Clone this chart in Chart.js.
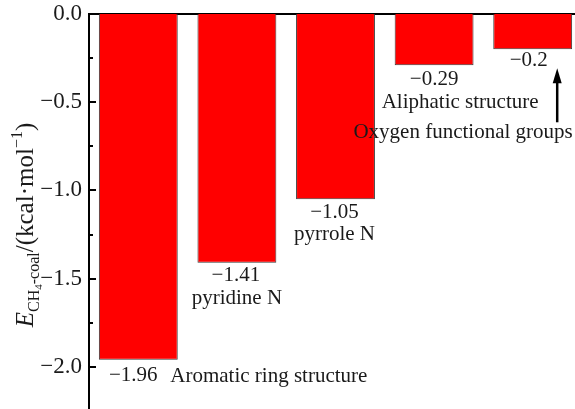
<!DOCTYPE html>
<html lang="en">
<head>
    <meta charset="UTF-8">
    <title>CH4 adsorption energy by structure</title>
    <style>
        html, body { margin: 0; padding: 0; background: #fff; overflow: hidden; }
        #wrap { width: 582px; height: 411px; }
    </style>
    <script src="https://cdn.jsdelivr.net/npm/chart.js"></script>
</head>
<body>
    <div id="wrap">
        <canvas id="energyChart" width="582" height="411"></canvas>
    </div>

    <script>
        // data
        const structures = ['Aromatic ring structure', 'pyridine N', 'pyrrole N', 'Aliphatic structure', 'Oxygen functional groups'];
        const energies = [-1.96, -1.41, -1.05, -0.29, -0.2];
        const valueLabels = ['\u22121.96', '\u22121.41', '\u22121.05', '\u22120.29', '\u22120.2'];
        const yTickValues = [0, -0.5, -1.0, -1.5, -2.0];

        const serif = '"Liberation Serif", "Times New Roman", serif';
        const textColor = '#1a1a1a';

        // offsets of each annotation from its bar (centre x, bottom y)
        const labelPlacement = [
            { vx: -5, vy: 21, nx: 32, ny: 22, align: 'left' },
            { vx: -1, vy: 18, nx: 0, ny: 41, align: 'center' },
            { vx: -1, vy: 19, nx: -1, ny: 41, align: 'center' },
            { vx: 0, vy: 20, nx: 26, ny: 43, align: 'center' },
            { vx: -4, vy: 17, nx: 40, ny: 89, align: 'right' }
        ];

        // inward tick marks: long at every 0.5, short at 0.25
        const tickMarks = {
            id: 'tickMarks',
            afterDatasetsDraw(chart) {
                const { ctx, scales: { y } } = chart;
                const x0 = chart.chartArea.left;
                ctx.save();
                ctx.strokeStyle = '#000';
                ctx.lineWidth = 2;
                y.ticks.forEach(t => {
                    const py = Math.round(y.getPixelForValue(t.value));
                    const major = yTickValues.some(v => Math.abs(v - t.value) < 1e-6);
                    ctx.beginPath();
                    ctx.moveTo(x0, py);
                    ctx.lineTo(x0 + (major ? 7 : 4), py);
                    ctx.stroke();
                });
                ctx.restore();
            }
        };

        // value labels, structure names and the arrow
        const annotations = {
            id: 'annotations',
            afterDatasetsDraw(chart) {
                const { ctx, scales: { x, y } } = chart;
                ctx.save();
                ctx.fillStyle = textColor;
                ctx.font = '21px ' + serif;
                ctx.textBaseline = 'alphabetic';
                energies.forEach((v, i) => {
                    const cx = x.getPixelForValue(i);
                    const by = y.getPixelForValue(v);
                    const p = labelPlacement[i];
                    ctx.textAlign = 'center';
                    ctx.fillText(valueLabels[i], cx + p.vx, by + p.vy);
                    ctx.textAlign = p.align;
                    ctx.fillText(structures[i], cx + p.nx, by + p.ny);
                });

                // arrow pointing up to the last bar
                const last = energies.length - 1;
                const ax = x.getPixelForValue(last) + 24.5;
                const tipY = y.getPixelForValue(energies[last]) + 19;
                const tailY = tipY + 54;
                ctx.strokeStyle = '#000';
                ctx.lineWidth = 2.5;
                ctx.beginPath();
                ctx.moveTo(ax, tailY);
                ctx.lineTo(ax, tipY + 10);
                ctx.stroke();
                ctx.fillStyle = '#000';
                ctx.beginPath();
                ctx.moveTo(ax, tipY);
                ctx.lineTo(ax - 4.5, tipY + 15);
                ctx.lineTo(ax + 4.5, tipY + 15);
                ctx.closePath();
                ctx.fill();
                ctx.restore();
            }
        };

        // rotated y title with italic E, subscripts and superscript
        const yTitle = {
            id: 'yTitle',
            afterDraw(chart) {
                const { ctx } = chart;
                const parts = [
                    { t: 'E', f: 'italic 25px ' + serif, dy: 0 },
                    { t: 'CH', f: '16px ' + serif, dy: 6 },
                    { t: '4', f: '11px ' + serif, dy: 9 },
                    { t: '-coal', f: '16px ' + serif, dy: 6 },
                    { t: '/(kcal\u00b7mol', f: '25px ' + serif, dy: 0 },
                    { t: '\u22121', f: '16px ' + serif, dy: -11 },
                    { t: ')', f: '25px ' + serif, dy: 0 }
                ];
                ctx.save();
                let total = 0;
                parts.forEach(p => { ctx.font = p.f; p.w = ctx.measureText(p.t).width; total += p.w; });
                ctx.translate(33, 225);
                ctx.rotate(-Math.PI / 2);
                ctx.fillStyle = textColor;
                ctx.textBaseline = 'alphabetic';
                ctx.textAlign = 'left';
                let cx = -total / 2;
                parts.forEach(p => {
                    ctx.font = p.f;
                    ctx.fillText(p.t, cx, p.dy);
                    cx += p.w;
                });
                ctx.restore();
            }
        };

        function drawChart() {
            const ctx = document.getElementById('energyChart').getContext('2d');
            new Chart(ctx, {
                type: 'bar',
                data: {
                    labels: structures,
                    datasets: [{
                        data: energies,
                        backgroundColor: '#ff0000',
                        borderColor: '#3a3a3a',
                        borderWidth: 1,
                        borderSkipped: 'start',
                        barPercentage: 0.8,
                        categoryPercentage: 1.0
                    }]
                },
                options: {
                    responsive: false,
                    animation: false,
                    devicePixelRatio: 1,
                    layout: { padding: { top: 14, right: 0, bottom: 0, left: 0 } },
                    plugins: {
                        legend: { display: false },
                        tooltip: { enabled: false }
                    },
                    scales: {
                        x: {
                            position: 'top',
                            ticks: { display: false },
                            grid: { display: false, drawTicks: false },
                            border: { display: true, color: '#000', width: 2 },
                            afterFit: scale => {
                                scale.height = 0;
                                scale.paddingLeft = 0;
                                scale.paddingRight = 0;
                            }
                        },
                        y: {
                            min: -2.25,
                            max: 0,
                            ticks: {
                                stepSize: 0.25,
                                padding: 7,
                                color: textColor,
                                font: { family: serif, size: 23 },
                                callback: v => {
                                    if (!yTickValues.some(t => Math.abs(t - v) < 1e-6)) return '';
                                    return v === 0 ? '0.0' : '\u2212' + Math.abs(v).toFixed(1);
                                }
                            },
                            grid: { display: false, drawTicks: false },
                            border: { display: true, color: '#000', width: 2 },
                            afterFit: scale => {
                                scale.width = 89;
                                scale.paddingTop = 0;
                                scale.paddingBottom = 0;
                            }
                        }
                    }
                },
                plugins: [tickMarks, annotations, yTitle]
            });
        }

        // make sure the serif face is ready before the canvas draws text
        Promise.all([
            document.fonts.load('21px "Liberation Serif"'),
            document.fonts.load('italic 25px "Liberation Serif"')
        ]).then(drawChart, drawChart);
    </script>
</body>
</html>
